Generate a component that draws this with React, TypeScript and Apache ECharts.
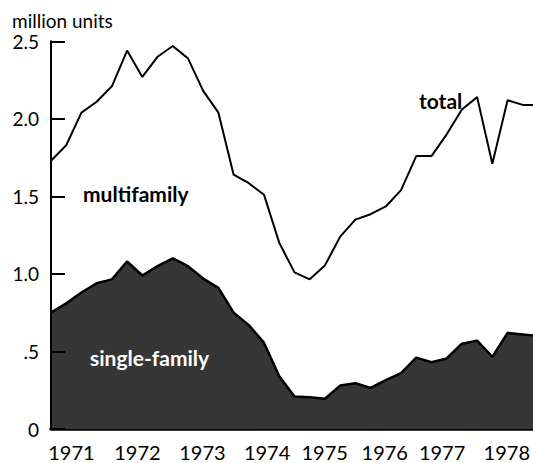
import React, { useEffect, useRef } from "react";
import * as echarts from "echarts";

// Quarterly housing starts, million units (quarters from early 1971 to mid 1978)
const totalStarts = [
  1.73, 1.83, 2.04, 2.11, 2.21, 2.44, 2.27, 2.4, 2.47, 2.39, 2.18, 2.04, 1.64,
  1.585, 1.51, 1.2, 1.01, 0.965, 1.055, 1.24, 1.35, 1.385, 1.435, 1.54, 1.76,
  1.76, 1.9, 2.06, 2.14, 1.71, 2.12, 2.09, 2.09,
];
const singleFamily = [
  0.75, 0.81, 0.88, 0.94, 0.965, 1.08, 0.99, 1.05, 1.1, 1.05, 0.97, 0.91, 0.75,
  0.67, 0.555, 0.34, 0.21, 0.205, 0.195, 0.28, 0.295, 0.265, 0.315, 0.36, 0.46,
  0.43, 0.455, 0.55, 0.57, 0.465, 0.62, 0.61, 0.6,
];
const yearLabels = ["1971", "1972", "1973", "1974", "1975", "1976", "1977", "1978"];
// positions of year labels in quarter-index units
const yearLabelPos = [1.34, 5.68, 9.95, 14.2, 17.98, 21.93, 25.7, 29.95];
const yTickLabels = ["0", ".5", "1.0", "1.5", "2.0", "2.5"];

const FONT = "Lato, 'Open Sans', sans-serif";

export default function App() {
  const ref = useRef<HTMLDivElement>(null);
  useEffect(() => {
    if (!ref.current) return;
    const chart = echarts.init(ref.current, undefined, { renderer: "svg" });
    chart.setOption({
      animation: false,
      backgroundColor: "#fff",
      grid: { left: 51, top: 41.3, right: 0, bottom: 34, containLabel: false },
      xAxis: {
        type: "value",
        min: 0,
        max: 31.66,
        axisLine: { show: true, lineStyle: { color: "#000", width: 3.5 } },
        axisTick: { show: false },
        splitLine: { show: false },
        axisLabel: {
          customValues: yearLabelPos,
          formatter: (v: number) => {
            const i = yearLabelPos.findIndex((p) => Math.abs(p - v) < 1e-6);
            return i >= 0 ? yearLabels[i] : "";
          },
          color: "#000",
          fontFamily: FONT,
          fontSize: 20,
          lineHeight: 20,
          margin: 13,
          hideOverlap: false,
        },
      },
      yAxis: {
        type: "value",
        min: 0,
        max: 2.5,
        interval: 0.5,
        z: 5,
        axisLine: { show: true, lineStyle: { color: "#000", width: 2 } },
        axisTick: { show: true, inside: true, length: 14, lineStyle: { color: "#000", width: 2 } },
        splitLine: { show: false },
        axisLabel: {
          formatter: (v: number) => yTickLabels[Math.round(v / 0.5)] ?? "",
          color: "#000",
          fontFamily: FONT,
          fontSize: 19,
          margin: 12,
          padding: [5, 0, 0, 0],
          lineHeight: 19,
        },
      },
      series: [
        {
          type: "line",
          data: singleFamily.map((v, i) => [i, v]),
          symbol: "none",
          lineStyle: { color: "#000", width: 2.5 },
          areaStyle: { color: "#363636", opacity: 1 },
          z: 2,
        },
        {
          type: "line",
          data: totalStarts.map((v, i) => [i, v]),
          symbol: "none",
          lineStyle: { color: "#000", width: 2 },
          z: 3,
        },
      ],
      graphic: [
        {
          type: "text",
          x: 12,
          y: 20,
          style: { text: "million units", fill: "#000", font: `19px ${FONT}`, verticalAlign: "middle", lineHeight: 19 },
        },
        {
          type: "text",
          x: 83,
          y: 193,
          style: { text: "multifamily", fill: "#000", font: `bold 21px ${FONT}`, verticalAlign: "middle" },
        },
        {
          type: "text",
          x: 419,
          y: 100,
          style: { text: "total", fill: "#000", font: `bold 21px ${FONT}`, verticalAlign: "middle" },
        },
        {
          type: "text",
          x: 90,
          y: 357,
          z: 10,
          style: { text: "single-family", fill: "#fff", font: `bold 21px ${FONT}`, verticalAlign: "middle" },
        },
      ],
    });
    return () => chart.dispose();
  }, []);
  return (
    <div
      ref={ref}
      style={{ position: "fixed", left: 0, top: 0, width: 533, height: 463 }}
    />
  );
}
